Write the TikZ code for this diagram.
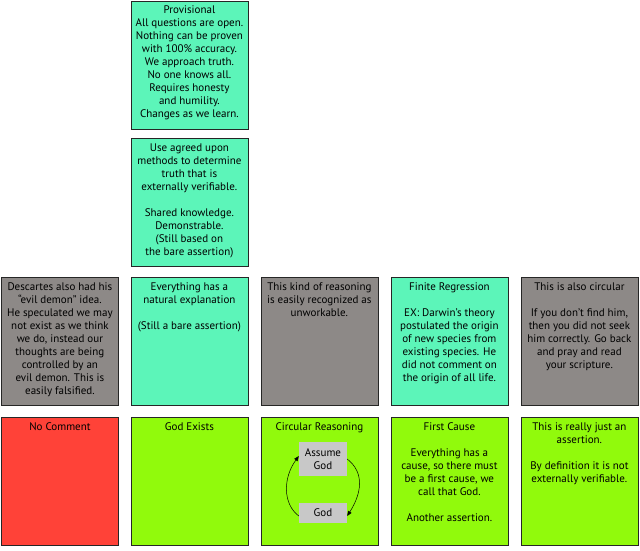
\documentclass[tikz,border=0pt]{standalone}
\usepackage{fontspec}
\setmainfont{PT Sans}
\usetikzlibrary{arrows.meta}
\definecolor{aqua}{RGB}{92,245,185}
\definecolor{lime}{RGB}{145,250,12}
\definecolor{redbox}{RGB}{255,66,56}
\definecolor{graybox}{RGB}{141,137,135}
\definecolor{innergray}{RGB}{200,200,200}
\tikzset{
  box/.style={draw=black!85, line width=0.8pt, rectangle, inner sep=0pt, anchor=north west,
    minimum width=117pt, minimum height=128pt},
  txt/.style={anchor=north, inner sep=0pt, align=center, text=black,
    font=\fontsize{11pt}{13pt}\selectfont},
  inner/.style={fill=innergray, draw=none, inner sep=0pt, minimum width=48pt, align=center,
    font=\fontsize{11pt}{13pt}\selectfont},
  arr/.style={-{Triangle[length=5pt,width=4pt]}, black, line width=0.5pt}
}
\begin{document}
\begin{tikzpicture}[x=1pt,y=-1pt]
\useasboundingbox (0,0) rectangle (640,550);
% top column 2
\node[box, fill=aqua] (prov) at (130.5,0.5) {};
\node[txt] (provt) at ([yshift=-5.5pt]prov.north) {Provisional\\All questions are open.\\Nothing can be proven\\with 100\% accuracy.\\We approach truth.\\No one knows all.\\Requires honesty\\and humility.\\Changes as we learn.};
\node[box, fill=aqua] (agreed) at (130.5,137.5) {};
\node[txt] (agreedt) at ([yshift=-6pt]agreed.north) {Use agreed upon\\methods to determine\\truth that is\\externally verifiable.\\[13pt]Shared knowledge.\\Demonstrable.\\(Still based on\\the bare assertion)};
% middle row
\node[box, fill=graybox] (desc) at (1,276.5) {};
\node[txt] (desct) at ([yshift=-6pt]desc.north) {Descartes also had his\\“evil demon” idea.\\He speculated we may\\not exist as we think\\we do, instead our\\thoughts are being\\controlled by an\\evil demon. This is\\easily falsified.};
\node[box, fill=aqua] (nat) at (130.5,276.5) {};
\node[txt] (natt) at ([yshift=-6pt]nat.north) {Everything has a\\natural explanation\\[13pt](Still a bare assertion)};
\node[box, fill=graybox] (kind) at (260.5,276.5) {};
\node[txt] (kindt) at ([yshift=-6pt]kind.north) {This kind of reasoning\\is easily recognized as\\unworkable.};
\node[box, fill=aqua] (fin) at (390.5,276.5) {};
\node[txt] (fint) at ([yshift=-6pt]fin.north) {Finite Regression\\[13pt]EX: Darwin’s theory\\postulated the origin\\of new species from\\existing species. He\\did not comment on\\the origin of all life.};
\node[box, fill=graybox] (also) at (520.5,276.5) {};
\node[txt] (alsot) at ([yshift=-6pt]also.north) {This is also circular\\[13pt]If you don’t find him,\\then you did not seek\\him correctly. Go back\\and pray and read\\your scripture.};
% bottom row
\node[box, fill=redbox] (noc) at (1,416.5) {};
\node[txt] (noct) at ([yshift=-6pt]noc.north) {No Comment};
\node[box, fill=lime] (god) at (130.5,416.5) {};
\node[txt] (godt) at ([yshift=-6pt]god.north) {God Exists};
\node[box, fill=lime] (circ) at (260.5,416.5) {};
\node[txt] (circt) at ([yshift=-6pt]circ.north) {Circular Reasoning};
\node[box, fill=lime] (first) at (390.5,416.5) {};
\node[txt] (firstt) at ([yshift=-6pt]first.north) {First Cause\\[13pt]Everything has a\\cause, so there must\\be a first cause, we\\call that God.\\[13pt]Another assertion.};
\node[box, fill=lime] (just) at (520.5,416.5) {};
\node[txt] (justt) at ([yshift=-6pt]just.north) {This is really just an\\assertion.\\[13pt]By definition it is not\\externally verifiable.};
% inner circular diagram
\node[inner, minimum height=34pt] (assume) at (323,459) {Assume\\God};
\node[inner, minimum height=20pt] (igod) at (323,513) {God};
\draw[arr] (assume.east) .. controls +(18,14) and +(14,-22) .. ([yshift=-3pt]igod.east);
\draw[arr] ([yshift=-3pt]igod.west) .. controls +(-16,-12) and +(-16,22) .. ([yshift=3pt]assume.west);
\end{tikzpicture}
\end{document}
